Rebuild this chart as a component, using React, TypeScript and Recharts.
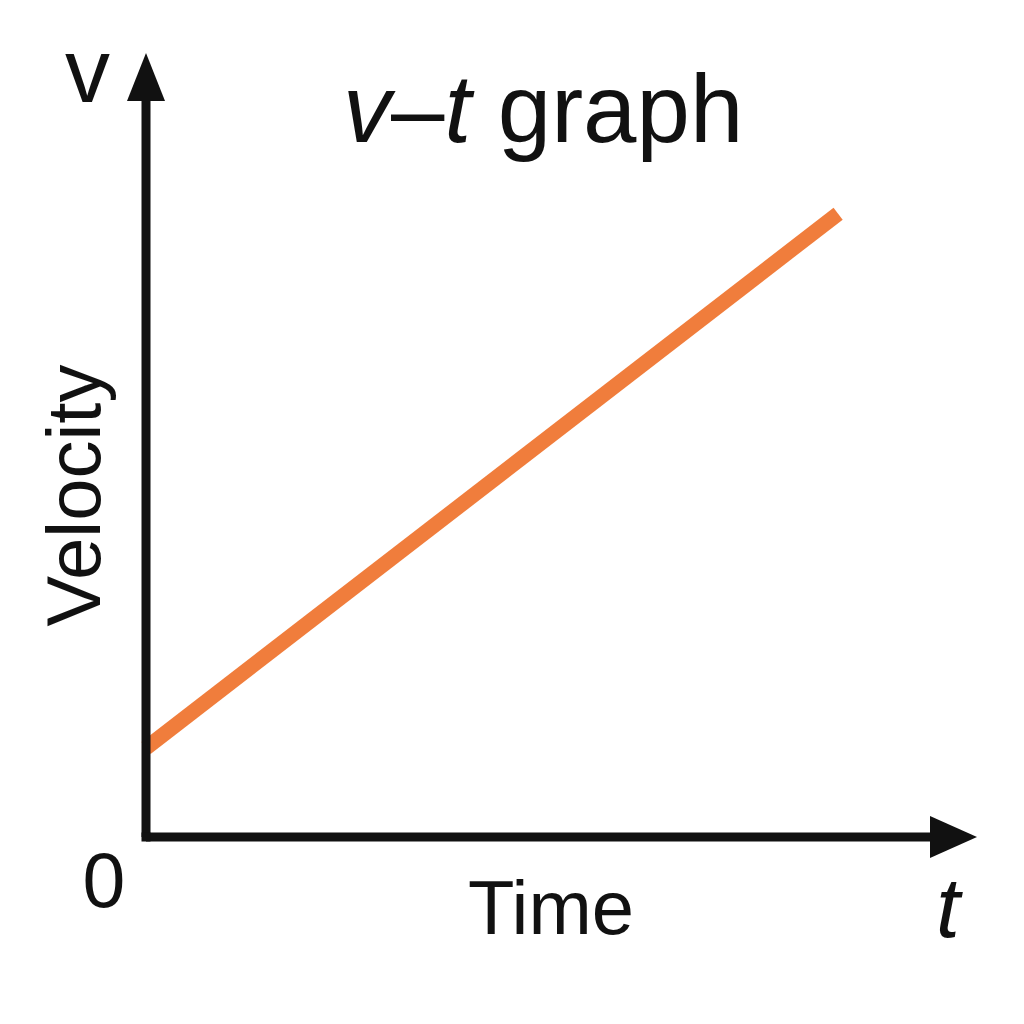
import React from "react";
import { LineChart, Line, XAxis, YAxis, ReferenceDot, ReferenceLine } from "recharts";

// Data
const times = [0, 10];
const velocities = [1.2, 8.4];
const xDomain: [number, number] = [0, 11.4];
const yDomain: [number, number] = [0, 10];

const data = times.map((t, i) => ({ t, v: velocities[i] }));

const FONT = "'Liberation Sans', Arial, sans-serif";
const AXIS_COLOR = "#111";
const LINE_COLOR = "#F07D3C";

const UpArrow = (props: any) => {
  const { cx, cy } = props;
  const tip = cy - 42;
  return (
    <polygon
      points={`${cx},${tip} ${cx - 19},${tip + 48} ${cx + 19},${tip + 48}`}
      fill={AXIS_COLOR}
    />
  );
};

const RightArrow = (props: any) => {
  const { cx, cy } = props;
  const tip = cx + 42;
  return (
    <polygon
      points={`${tip},${cy} ${tip - 47},${cy - 21} ${tip - 47},${cy + 21}`}
      fill={AXIS_COLOR}
    />
  );
};

const Corner = (props: any) => {
  const { cx, cy } = props;
  return <rect x={cx - 4.5} y={cy - 4.5} width={9} height={9} fill={AXIS_COLOR} />;
};

export default function App() {
  return (
    <div style={{ position: "absolute", left: 0, top: 0, width: 1024, height: 1024, background: "#fff" }}>
      <LineChart
        width={1024}
        height={1024}
        data={data}
        margin={{ top: 95, right: 89, bottom: 187, left: 146 }}
      >
        <XAxis type="number" dataKey="t" domain={xDomain} hide />
        <YAxis type="number" domain={yDomain} hide />
        <Line
          type="linear"
          dataKey="v"
          stroke={LINE_COLOR}
          strokeWidth={15}
          dot={false}
          activeDot={false}
          isAnimationActive={false}
        />
        <ReferenceLine x={xDomain[0]} stroke={AXIS_COLOR} strokeWidth={9} ifOverflow="visible" />
        <ReferenceLine y={yDomain[0]} stroke={AXIS_COLOR} strokeWidth={9} ifOverflow="visible" />
        <ReferenceDot x={xDomain[0]} y={yDomain[1]} shape={UpArrow} ifOverflow="visible" />
        <ReferenceDot x={xDomain[1]} y={yDomain[0]} shape={RightArrow} ifOverflow="visible" />
        <ReferenceDot x={xDomain[0]} y={yDomain[0]} shape={Corner} ifOverflow="visible" />
      </LineChart>
      <svg
        width={1024}
        height={1024}
        style={{ position: "absolute", left: 0, top: 0, pointerEvents: "none" }}
        fontFamily={FONT}
        fill="#111"
      >
        <text x={87.5} y={102} fontSize={90} textAnchor="middle">v</text>
        <text x={343} y={142} fontSize={96}>
          <tspan fontStyle="italic">v</tspan>
          <tspan>–</tspan>
          <tspan fontStyle="italic">t</tspan>
          <tspan> graph</tspan>
        </text>
        <text
          x={100}
          y={495.5}
          fontSize={76}
          textAnchor="middle"
          transform="rotate(-90, 100, 495.5)"
        >
          Velocity
        </text>
        <text x={104} y={907} fontSize={77} textAnchor="middle">0</text>
        <text x={551} y={934} fontSize={76} textAnchor="middle">Time</text>
        <text x={948} y={937} fontSize={86} fontStyle="italic" textAnchor="middle">t</text>
      </svg>
    </div>
  );
}
